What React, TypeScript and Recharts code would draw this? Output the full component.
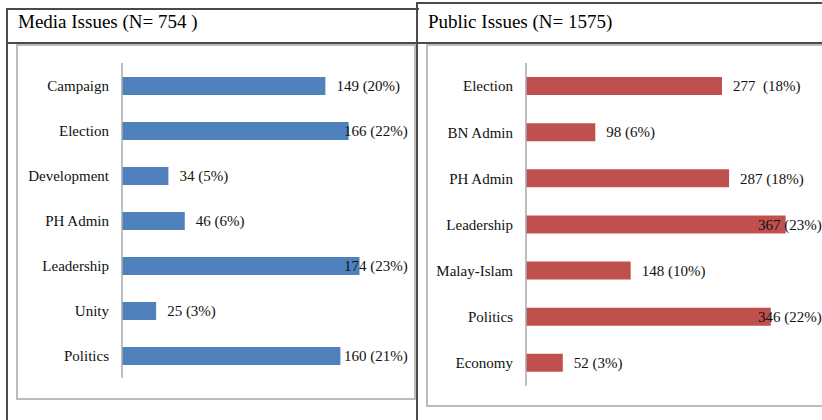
import React from 'react';
import { BarChart, Bar, XAxis, YAxis, LabelList } from 'recharts';

const mediaCategories = ['Campaign', 'Election', 'Development', 'PH Admin', 'Leadership', 'Unity', 'Politics'];
const mediaValues = [149, 166, 34, 46, 174, 25, 160];
const mediaLabels = ['149 (20%)', '166 (22%)', '34 (5%)', '46 (6%)', '174 (23%)', '25 (3%)', '160 (21%)'];

const publicCategories = ['Election', 'BN Admin', 'PH Admin', 'Leadership', 'Malay-Islam', 'Politics', 'Economy'];
const publicValues = [277, 98, 287, 367, 148, 346, 52];
const publicLabels = ['277  (18%)', '98 (6%)', '287 (18%)', '367 (23%)', '148 (10%)', '346 (22%)', '52 (3%)'];

const FONT = '"Liberation Serif", "Times New Roman", serif';
const LINE = '#4a4a4a';
const BOX = '#bcbcbc';

// label sits just right of the bar, but is pushed back inside when it would run off the box
const makeLabel = (labels: string[], maxX: number) => (props: any) => {
  const { x, y, width, height, index } = props;
  const lx = Math.min(x + width + 11, maxX);
  return (
    <text
      x={lx}
      y={y + height / 2}
      dy="0.35em"
      fontFamily={FONT}
      fontSize={15}
      fill="#111"
      style={{ whiteSpace: 'pre' }}
    >
      {labels[index]}
    </text>
  );
};

interface PanelProps {
  categories: string[];
  values: number[];
  labels: string[];
  color: string;
  max: number;
  width: number;
  height: number;
  axisWidth: number;
  margin: { top: number; right: number; bottom: number; left: number };
  labelMaxX: number;
}

const Panel: React.FC<PanelProps> = ({ categories, values, labels, color, max, width, height, axisWidth, margin, labelMaxX }) => {
  const data = categories.map((name, i) => ({ name, value: values[i] }));
  return (
    <BarChart layout="vertical" width={width} height={height} data={data} margin={margin}>
      <XAxis type="number" domain={[0, max]} hide />
      <YAxis
        type="category"
        dataKey="name"
        width={axisWidth}
        tickLine={false}
        tickSize={0}
        tickMargin={13}
        axisLine={{ stroke: '#a8a8a8', strokeWidth: 1.5 }}
        tick={{ fontFamily: FONT, fontSize: 15, fill: '#111' }}
        interval={0}
      />
      <Bar dataKey="value" fill={color} barSize={18} isAnimationActive={false}>
        <LabelList dataKey="value" content={makeLabel(labels, labelMaxX)} />
      </Bar>
    </BarChart>
  );
};

const abs = (left: number, top: number, width: number, height: number, extra: React.CSSProperties = {}): React.CSSProperties => ({
  position: 'absolute',
  left,
  top,
  width,
  height,
  boxSizing: 'border-box',
  ...extra,
});

export default function App() {
  return (
    <div style={{ position: 'fixed', left: 0, top: 0, width: 822, height: 420, overflow: 'hidden', background: '#fff' }}>
      {/* table lines */}
      <div style={abs(6, 8, 413, 2, { background: LINE })} />
      <div style={abs(418, 2, 404, 2, { background: LINE })} />
      <div style={abs(6, 8, 2, 412, { background: LINE })} />
      <div style={abs(416, 2, 2, 418, { background: LINE })} />
      <div style={abs(6, 42, 816, 2, { background: LINE })} />

      {/* titles */}
      <div style={abs(18, 12, 300, 19, { fontFamily: FONT, fontSize: 19, lineHeight: '19px', color: '#000' })}>
        Media Issues (N= 754 )
      </div>
      <div style={abs(428, 12, 300, 19, { fontFamily: FONT, fontSize: 19, lineHeight: '19px', color: '#000' })}>
        Public Issues (N= 1575)
      </div>

      {/* chart boxes */}
      <div style={abs(16, 44, 400, 356, { border: `2px solid ${BOX}` })} />
      <div style={abs(426, 44, 410, 363, { border: `2px solid ${BOX}` })} />

      <div style={abs(17, 45, 398, 354)}>
        <Panel
          categories={mediaCategories}
          values={mediaValues}
          labels={mediaLabels}
          color="#4F81BD"
          max={200}
          width={398}
          height={354}
          axisWidth={105}
          margin={{ top: 18, right: 20, bottom: 21, left: 0 }}
          labelMaxX={327}
        />
      </div>
      <div style={abs(427, 45, 400, 361)}>
        <Panel
          categories={publicCategories}
          values={publicValues}
          labels={publicLabels}
          color="#C0504D"
          max={400}
          width={400}
          height={361}
          axisWidth={99}
          margin={{ top: 18, right: 18, bottom: 20, left: 0 }}
          labelMaxX={331}
        />
      </div>
    </div>
  );
}
